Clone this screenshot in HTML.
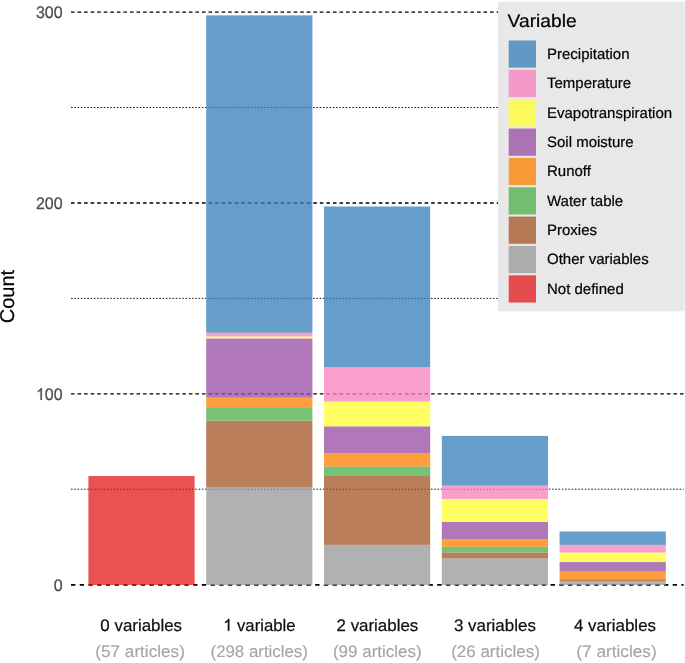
<!DOCTYPE html>
<html><head><meta charset="utf-8"><style>
html,body{margin:0;padding:0;background:#fff;}
svg{display:block;will-change:transform;text-rendering:geometricPrecision;font-family:"Liberation Sans",sans-serif;}
.mj{stroke:#000;stroke-width:1.3;stroke-dasharray:3.6 2.948;}
.mn{stroke:#000;stroke-width:0.9;stroke-dasharray:1.6 1.672;}
.z0{stroke:#000;stroke-width:1.7;stroke-dasharray:4.36 4.36;}
.tk{font-size:16.7px;fill:#4D4D4D;stroke:#4D4D4D;stroke-width:0.25px;text-anchor:end;}
.x1{font-size:16.7px;fill:#111;stroke:#111;stroke-width:0.25px;}
.x2{font-size:16.6px;fill:#A6A6A6;stroke:#A6A6A6;stroke-width:0.15px;}
.hid{fill:none;stroke:none;}
.tkp{fill:#4D4D4D;stroke:#4D4D4D;stroke-width:0.25px;vector-effect:non-scaling-stroke;}
.x1p{fill:#111;stroke:#111;stroke-width:0.25px;vector-effect:non-scaling-stroke;}
.lt{font-size:18.3px;fill:#000;stroke:#000;stroke-width:0.2px;}
.ll{font-size:15px;fill:#000;stroke:#000;stroke-width:0.2px;}
.yt{font-size:20px;fill:#000;stroke:#000;stroke-width:0.2px;text-anchor:middle;}
</style></head><body>
<svg width="685" height="663" viewBox="0 0 685 663">
<rect width="685" height="663" fill="#fff"/>
<line x1="71.0" x2="683.6" y1="107.5" y2="107.5" class="mn"/><line x1="71.0" x2="683.6" y1="298.4" y2="298.4" class="mn"/><line x1="71.0" x2="683.6" y1="489.2" y2="489.2" class="mn"/><line x1="71.0" x2="683.6" y1="12.05" y2="12.05" class="mj"/><line x1="71.0" x2="683.6" y1="203.0" y2="203.0" class="mj"/><line x1="71.0" x2="683.6" y1="393.9" y2="393.9" class="mj"/><line x1="71.0" x2="683.6" y1="584.9" y2="584.9" class="z0"/>
<g fill-opacity="0.76"><rect x="88.40" y="476.04" width="106.2" height="108.96" fill="#E41A1C"/><rect x="206.20" y="487.51" width="106.2" height="97.49" fill="#999999"/><rect x="206.20" y="420.61" width="106.2" height="66.90" fill="#A65628"/><rect x="206.20" y="407.23" width="106.2" height="13.38" fill="#4DAF4A"/><rect x="206.20" y="397.67" width="106.2" height="9.56" fill="#FF7F00"/><rect x="206.20" y="338.42" width="106.2" height="59.26" fill="#984EA3"/><rect x="206.20" y="336.50" width="106.2" height="1.91" fill="#FFFF33"/><rect x="206.20" y="332.68" width="106.2" height="3.82" fill="#F781BF"/><rect x="206.20" y="15.37" width="106.2" height="317.31" fill="#377EB8"/><rect x="324.00" y="544.86" width="106.2" height="40.14" fill="#999999"/><rect x="324.00" y="476.04" width="106.2" height="68.81" fill="#A65628"/><rect x="324.00" y="466.49" width="106.2" height="9.56" fill="#4DAF4A"/><rect x="324.00" y="453.11" width="106.2" height="13.38" fill="#FF7F00"/><rect x="324.00" y="426.35" width="106.2" height="26.76" fill="#984EA3"/><rect x="324.00" y="401.50" width="106.2" height="24.85" fill="#FFFF33"/><rect x="324.00" y="367.09" width="106.2" height="34.41" fill="#F781BF"/><rect x="324.00" y="206.52" width="106.2" height="160.57" fill="#377EB8"/><rect x="441.80" y="558.24" width="106.2" height="26.76" fill="#999999"/><rect x="441.80" y="552.50" width="106.2" height="5.73" fill="#A65628"/><rect x="441.80" y="546.77" width="106.2" height="5.73" fill="#4DAF4A"/><rect x="441.80" y="539.12" width="106.2" height="7.65" fill="#FF7F00"/><rect x="441.80" y="521.92" width="106.2" height="17.20" fill="#984EA3"/><rect x="441.80" y="498.98" width="106.2" height="22.94" fill="#FFFF33"/><rect x="441.80" y="485.60" width="106.2" height="13.38" fill="#F781BF"/><rect x="441.80" y="435.90" width="106.2" height="49.70" fill="#377EB8"/><rect x="559.60" y="581.18" width="106.2" height="3.82" fill="#999999"/><rect x="559.60" y="579.27" width="106.2" height="1.91" fill="#A65628"/><rect x="559.60" y="571.62" width="106.2" height="7.65" fill="#FF7F00"/><rect x="559.60" y="562.06" width="106.2" height="9.56" fill="#984EA3"/><rect x="559.60" y="552.50" width="106.2" height="9.56" fill="#FFFF33"/><rect x="559.60" y="544.86" width="106.2" height="7.65" fill="#F781BF"/><rect x="559.60" y="531.48" width="106.2" height="13.38" fill="#377EB8"/></g>
<text transform="translate(62.6,18.05) scale(0.958,1)" class="tk">300</text><text transform="translate(62.6,209.00) scale(0.958,1)" class="tk">200</text><g transform="translate(62.6,399.90) scale(0.958,1)"><text class="tk"><tspan class="hid">1</tspan>00</text><path class="tkp" transform="translate(-27.863,0) scale(0.008154,-0.008154)" d="M763,0L583,0L583,1147Q518,1085 422.5,1029Q327,973 244,942L244,1116Q395,1187 501.5,1281.5Q608,1376 647,1466L763,1466Z"/></g><text transform="translate(62.6,590.85) scale(0.958,1)" class="tk">0</text>
<text x="0" y="0" class="yt" transform="translate(14.0,296.6) rotate(-90)">Count</text>
<text transform="translate(100.34,630.8) scale(1.0125,1)" class="x1">0 variables</text><text transform="translate(95.32,656.8) scale(1.0331,1)" class="x2">(57 articles)</text><g transform="translate(223.08,630.8) scale(1.0010,1)"><text class="x1"><tspan class="hid">1</tspan> variable</text><path class="x1p" transform="translate(0.000,0) scale(0.008154,-0.008154)" d="M763,0L583,0L583,1147Q518,1085 422.5,1029Q327,973 244,942L244,1116Q395,1187 501.5,1281.5Q608,1376 647,1466L763,1466Z"/></g><text transform="translate(210.53,656.8) scale(1.0148,1)" class="x2">(298 articles)</text><text transform="translate(336.54,630.8) scale(1.0127,1)" class="x1">2 variables</text><text transform="translate(332.93,656.8) scale(1.0237,1)" class="x2">(99 articles)</text><text transform="translate(453.93,630.8) scale(1.0153,1)" class="x1">3 variables</text><text transform="translate(451.13,656.8) scale(1.0235,1)" class="x2">(26 articles)</text><text transform="translate(573.94,630.8) scale(1.0176,1)" class="x1">4 variables</text><text transform="translate(576.33,656.8) scale(1.0371,1)" class="x2">(7 articles)</text>
<rect x="498" y="1.7" width="186.5" height="309.6" fill="#E8E8E8"/><text transform="translate(507.58,26.7) scale(1.0498,1)" class="lt">Variable</text><rect x="508.7" y="40.50" width="27.3" height="27.2" fill="#377EB8" fill-opacity="0.76"/><text x="547" y="59.00" class="ll">Precipitation</text><rect x="508.7" y="69.85" width="27.3" height="27.2" fill="#F781BF" fill-opacity="0.76"/><text x="547" y="88.35" class="ll">Temperature</text><rect x="508.7" y="99.20" width="27.3" height="27.2" fill="#FFFF33" fill-opacity="0.76"/><text x="547" y="117.70" class="ll">Evapotranspiration</text><rect x="508.7" y="128.55" width="27.3" height="27.2" fill="#984EA3" fill-opacity="0.76"/><text x="547" y="147.05" class="ll">Soil moisture</text><rect x="508.7" y="157.90" width="27.3" height="27.2" fill="#FF7F00" fill-opacity="0.76"/><text x="547" y="176.40" class="ll">Runoff</text><rect x="508.7" y="187.25" width="27.3" height="27.2" fill="#4DAF4A" fill-opacity="0.76"/><text x="547" y="205.75" class="ll">Water table</text><rect x="508.7" y="216.60" width="27.3" height="27.2" fill="#A65628" fill-opacity="0.76"/><text x="547" y="235.10" class="ll">Proxies</text><rect x="508.7" y="245.95" width="27.3" height="27.2" fill="#999999" fill-opacity="0.76"/><text x="547" y="264.45" class="ll">Other variables</text><rect x="508.7" y="275.30" width="27.3" height="27.2" fill="#E41A1C" fill-opacity="0.76"/><text x="547" y="293.80" class="ll">Not defined</text>
</svg>
</body></html>
